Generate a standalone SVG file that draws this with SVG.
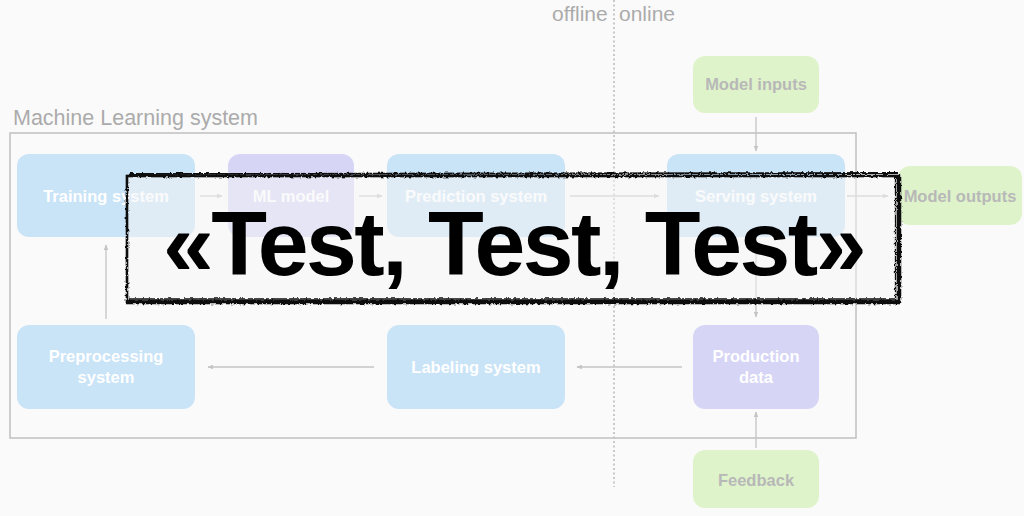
<svg xmlns="http://www.w3.org/2000/svg" width="1024" height="516" viewBox="0 0 1024 516">
  <defs>
    <style>
      .blue { fill: #c9e3f7; }
      .lav { fill: #d6d5f5; }
      .green { fill: #def3ca; }
      .lbl { font-family: "Liberation Sans", Arial, sans-serif; font-weight: bold; font-size: 16.5px; fill: #ffffff; text-anchor: middle; }
      .glbl { font-family: "Liberation Sans", Arial, sans-serif; font-weight: bold; font-size: 16.5px; fill: #b8b8b8; text-anchor: middle; }
      .cap { font-family: "Liberation Sans", Arial, sans-serif; font-size: 21px; fill: #ababab; }
      .conn { stroke: #c4c4c4; stroke-width: 1.3; fill: none; marker-end: url(#ah); }
    </style>
    <marker id="ah" viewBox="0 0 10 10" refX="9" refY="5" markerWidth="6" markerHeight="6" orient="auto" markerUnits="userSpaceOnUse">
      <path d="M0,1 L10,5 L0,9 z" fill="#c4c4c4"/>
    </marker>
    <filter id="rough" x="-5%" y="-20%" width="110%" height="140%">
      <feTurbulence type="fractalNoise" baseFrequency="0.35" numOctaves="2" seed="3" result="n"/>
      <feDisplacementMap in="SourceGraphic" in2="n" scale="3.5" xChannelSelector="R" yChannelSelector="G"/>
    </filter>
  </defs>
  <rect width="1024" height="516" fill="#fafafa"/>

  <g id="labels">
    <text class="cap" x="552" y="21">offline</text>
    <text class="cap" x="619" y="21">online</text>
    <text class="cap" x="13" y="125" style="font-size:21.5px">Machine Learning system</text>
  </g>

  <g id="frame">
    <line x1="614" y1="0" x2="614" y2="487" stroke="#a8a8a8" stroke-width="1.2" stroke-dasharray="2,2.5"/>
    <rect x="10" y="133" width="846" height="305" fill="none" stroke="#c0c0c0" stroke-width="1.5"/>
  </g>

  <g id="training-system">
    <rect class="blue" x="17" y="154" width="178" height="83" rx="12"/>
    <text class="lbl" x="106" y="202">Training system</text>
  </g>
  <g id="ml-model">
    <rect class="lav" x="228" y="154" width="126" height="83" rx="12"/>
    <text class="lbl" x="291" y="202">ML model</text>
  </g>
  <g id="prediction-system">
    <rect class="blue" x="387" y="154" width="178" height="83" rx="12"/>
    <text class="lbl" x="476" y="202">Prediction system</text>
  </g>
  <g id="serving-system">
    <rect class="blue" x="667" y="154" width="178" height="83" rx="12"/>
    <text class="lbl" x="756" y="202">Serving system</text>
  </g>
  <g id="model-inputs">
    <rect class="green" x="693" y="56" width="126" height="57" rx="12"/>
    <text class="glbl" x="756" y="90">Model inputs</text>
  </g>
  <g id="model-outputs">
    <rect class="green" x="898" y="166" width="124" height="59" rx="12"/>
    <text class="glbl" x="960" y="202">Model outputs</text>
  </g>
  <g id="preprocessing-system">
    <rect class="blue" x="17" y="325" width="178" height="84" rx="12"/>
    <text class="lbl" x="106" y="362">Preprocessing</text>
    <text class="lbl" x="106" y="383">system</text>
  </g>
  <g id="labeling-system">
    <rect class="blue" x="387" y="325" width="178" height="84" rx="12"/>
    <text class="lbl" x="476" y="373">Labeling system</text>
  </g>
  <g id="production-data">
    <rect class="lav" x="693" y="325" width="126" height="84" rx="12"/>
    <text class="lbl" x="756" y="362">Production</text>
    <text class="lbl" x="756" y="383">data</text>
  </g>
  <g id="feedback">
    <rect class="green" x="693" y="450" width="126" height="58" rx="12"/>
    <text class="glbl" x="756" y="486">Feedback</text>
  </g>

  <g id="connectors">
    <line class="conn" x1="200" y1="196" x2="222" y2="196"/>
    <line class="conn" x1="359" y1="196" x2="382" y2="196"/>
    <line class="conn" x1="570" y1="196" x2="659" y2="196"/>
    <line class="conn" x1="847" y1="196" x2="888" y2="196"/>
    <line class="conn" x1="756" y1="117" x2="756" y2="151"/>
    <line class="conn" x1="756" y1="240" x2="756" y2="317"/>
    <line class="conn" x1="756" y1="448" x2="756" y2="412"/>
    <line class="conn" x1="682" y1="367" x2="577" y2="367"/>
    <line class="conn" x1="374" y1="367" x2="208" y2="367"/>
    <line class="conn" x1="106" y1="319" x2="106" y2="245"/>
  </g>

  <g id="banner">
    <rect x="127" y="176" width="772" height="126" fill="#f6f6f6" fill-opacity="0.5"/>
    <g filter="url(#rough)" fill="none" stroke="#111">
      <rect x="127" y="176" width="772" height="126" stroke-width="2.6"/>
      <path d="M899,175 L899,303 M126,302 L900,302" stroke-width="4.5"/>
      <path d="M895.5,178 L895.5,300 M129,299 L896,299" stroke-width="1.3"/>
      <path d="M130,174 L898,173" stroke-width="1.8"/>
    </g>
    <text x="163" y="275" textLength="701" lengthAdjust="spacingAndGlyphs" letter-spacing="-2.5" font-family="'Liberation Sans', Arial, sans-serif" font-weight="bold" font-size="91" fill="#000">«Test, Test, Test»</text>
  </g>
</svg>
